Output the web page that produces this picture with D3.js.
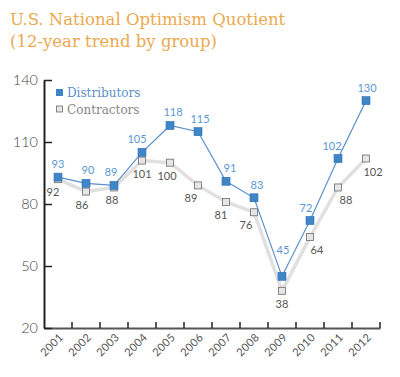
<!DOCTYPE html>
<html>
<head>
<meta charset="utf-8">
<script src="https://cdn.jsdelivr.net/npm/d3@7"></script>
<style>
  body { margin: 0; background: #fff; }
  svg { display: block; }
</style>
</head>
<body>
<div id="chart-area"></div>
<script>
const years = ["2001", "2002", "2003", "2004", "2005", "2006", "2007", "2008", "2009", "2010", "2011", "2012"];
const distributors = [93, 90, 89, 105, 118, 115, 91, 83, 45, 72, 102, 130];
const contractors = [92, 86, 88, 101, 100, 89, 81, 76, 38, 64, 88, 102];
const yTicks = [20, 50, 80, 110, 140];

const width = 400;
const height = 377;
const margin = { top: 80, right: 20, bottom: 49, left: 44 };
const innerW = 336;
const innerH = height - margin.top - margin.bottom;

const blue = "#3f86c8";
const blueText = "#5b98d2";
const greyText = "#555";

// small horizontal nudges for value labels so they clear the lines
const blueNudge = [0, 2, -3, -5, 3, 2, 4, 3, 1, -4, -6, 1];
const greyNudge = [-5, -4, -2, 0, -3, -7, -5, -8, 0, 7, 8, 7];

const svg = d3.select("#chart-area")
    .append("svg")
    .attr("width", width)
    .attr("height", height);

svg.append("text")
    .attr("x", 10)
    .attr("y", 25)
    .attr("font-family", "DejaVu Serif")
    .attr("font-size", "16.5px")
    .attr("fill", "#eba94f")
    .text("U.S. National Optimism Quotient");

svg.append("text")
    .attr("x", 10)
    .attr("y", 47)
    .attr("font-family", "DejaVu Serif")
    .attr("font-size", "16.5px")
    .attr("fill", "#eba94f")
    .text("(12-year trend by group)");

const g = svg.append("g")
    .attr("transform", "translate(" + margin.left + ", " + margin.top + ")");

const x = d3.scaleBand().domain(years).range([0, innerW]);
const y = d3.scaleLinear().domain([20, 140]).range([innerH, 0]);
const cx = (d, i) => x(years[i]) + x.bandwidth() / 2;

// x axis: ticks at band edges
const xAxis = d3.axisBottom(x)
    .tickSizeInner(-6)
    .tickSizeOuter(0)
    .tickFormat("");
const xg = g.append("g")
    .attr("transform", "translate(0, " + innerH + ")")
    .call(xAxis);
xg.selectAll(".tick").attr("transform", (d) => "translate(" + (x(d) + x.bandwidth()) + ",0)");
xg.select(".domain").attr("stroke", "#555").attr("stroke-width", 2);
xg.selectAll(".tick line").attr("stroke", "#222").attr("stroke-width", 1.5);

g.selectAll(".year-label")
    .data(years)
    .enter()
    .append("text")
    .attr("class", "year-label")
    .attr("text-anchor", "end")
    .attr("font-family", "Lato")
    .attr("font-size", "11px")
    .attr("letter-spacing", "0.3px")
    .attr("fill", "#555")
    .attr("transform", (d) => "translate(" + (x(d) + x.bandwidth() / 2 + 6) + "," + (innerH + 10) + ") rotate(-45)")
    .text((d) => d);

const yAxis = d3.axisLeft(y)
    .tickValues(yTicks)
    .tickSizeInner(-8)
    .tickSizeOuter(0)
    .tickPadding(6);
const yg = g.append("g").call(yAxis);
yg.select(".domain").attr("stroke", "#222").attr("stroke-width", 2);
yg.selectAll(".tick line").attr("stroke", "#222").attr("stroke-width", 1.5);
yg.selectAll(".tick text")
    .attr("x", -6)
    .attr("font-family", "Lato")
    .attr("font-weight", 300)
    .attr("font-size", "14.5px")
    .attr("fill", "#444");

const line = d3.line().x(cx).y((d) => y(d));

g.append("path")
    .datum(contractors)
    .attr("fill", "none")
    .attr("stroke", "#e0e0e0")
    .attr("stroke-width", 3.5)
    .attr("d", line);

g.append("path")
    .datum(distributors)
    .attr("fill", "none")
    .attr("stroke", "#5b8fc9")
    .attr("stroke-width", 1.2)
    .attr("d", line);

g.selectAll(".c-mark")
    .data(contractors)
    .enter()
    .append("rect")
    .attr("class", "c-mark")
    .attr("x", (d, i) => cx(d, i) - 3.5)
    .attr("y", (d) => y(d) - 3.5)
    .attr("width", 7)
    .attr("height", 7)
    .attr("fill", "#e6e6e6")
    .attr("stroke", "#6a6a6a")
    .attr("stroke-width", 0.8);

g.selectAll(".d-mark")
    .data(distributors)
    .enter()
    .append("rect")
    .attr("class", "d-mark")
    .attr("x", (d, i) => cx(d, i) - 4)
    .attr("y", (d) => y(d) - 4)
    .attr("width", 8)
    .attr("height", 8)
    .attr("fill", blue)
    .attr("stroke", "#2f6fb0")
    .attr("stroke-width", 0.6);

g.selectAll(".d-label")
    .data(distributors)
    .enter()
    .append("text")
    .attr("class", "d-label")
    .attr("text-anchor", "middle")
    .attr("font-family", "Lato")
    .attr("font-size", "11px")
    .attr("fill", blueText)
    .attr("x", (d, i) => cx(d, i) + blueNudge[i])
    .attr("y", (d, i) => y(d) - (i === 8 ? 22 : 9))
    .text((d) => d);

g.selectAll(".c-label")
    .data(contractors)
    .enter()
    .append("text")
    .attr("class", "c-label")
    .attr("text-anchor", "middle")
    .attr("font-family", "Lato")
    .attr("font-size", "11px")
    .attr("fill", greyText)
    .attr("x", (d, i) => cx(d, i) + greyNudge[i])
    .attr("y", (d) => y(d) + 17)
    .text((d) => d);

// legend
const legend = g.append("g").attr("transform", "translate(12, 13)");
legend.append("rect")
    .attr("x", 0).attr("y", -4).attr("width", 7).attr("height", 7)
    .attr("fill", blue);
legend.append("text")
    .attr("x", 11).attr("y", 4)
    .attr("font-family", "DejaVu Serif")
    .attr("font-size", "12px")
    .attr("fill", "#5b8fc9")
    .text("Distributors");
legend.append("rect")
    .attr("x", 0.5).attr("y", 13).attr("width", 6).attr("height", 6)
    .attr("fill", "#e6e6e6").attr("stroke", "#6a6a6a").attr("stroke-width", 0.8);
legend.append("text")
    .attr("x", 11).attr("y", 21)
    .attr("font-family", "DejaVu Serif")
    .attr("font-size", "12px")
    .attr("fill", "#888")
    .text("Contractors");
</script>
</body>
</html>
